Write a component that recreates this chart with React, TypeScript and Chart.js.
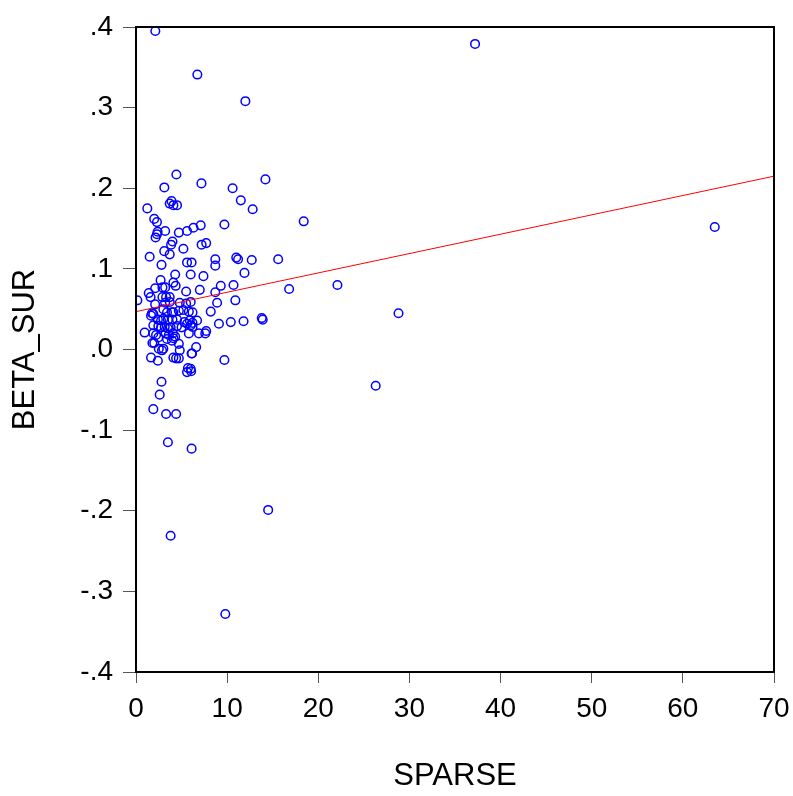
import React, { useEffect, useRef } from "react";
import { Chart, registerables } from "chart.js";

Chart.register(...registerables);

// SPARSE values (x) and BETA_SUR values (y), paired by index
const sparse: number[] = [
  2.12, 37.2, 6.73, 12.0, 63.5, 1.24, 3.11, 4.43, 7.18, 10.6, 14.2, 11.5, 12.8, 18.4, 9.7,
  22.1, 16.8, 15.6, 12.7, 11.0, 11.2, 11.9, 10.9, 10.4, 11.8, 13.8, 13.9, 28.8, 26.3, 9.7,
  14.5, 9.8, 3.8, 6.1, 3.5, 1.9, 3.3, 4.4, 2.6, 2.8, 0.15,
  3.9, 3.7, 4.1, 4.5, 2.0, 2.3, 3.2, 2.37, 2.3, 2.15, 4.7, 5.6, 6.3, 7.1, 4.0, 3.85,
  3.1, 3.7, 5.2, 7.2, 7.7, 1.5, 2.8, 5.6, 6.1, 8.7, 8.7, 4.3, 6.0, 7.4, 2.7,
  4.1, 4.35, 2.1, 2.9, 3.2, 1.4, 1.6, 2.9, 3.3, 3.7, 5.5, 7.0, 9.3, 10.7, 8.7,
  2.1, 3.2, 3.7, 4.8, 5.5, 6.0, 8.9, 1.75, 1.9, 1.65, 3.0, 3.4, 3.95,
  4.1, 4.7, 5.2, 5.8, 6.2, 8.2, 2.4, 2.75, 3.0, 3.5, 4.0, 4.5, 5.3, 5.9, 6.2, 6.7, 9.1,
  1.9, 2.45, 2.75, 3.15, 3.5, 3.8, 4.5, 5.0, 5.6, 6.0, 6.2, 0.95, 1.9, 2.2, 2.45,
  3.25, 3.6, 4.05, 4.3, 5.8, 6.9, 7.6, 7.7, 3.4, 3.95, 4.1, 4.7, 1.8, 2.0,
  2.5, 2.85, 3.0, 4.8, 6.1, 6.15, 6.6, 1.65, 2.4, 4.1, 4.4, 4.7, 5.7, 6.0, 6.05, 5.6,
];

const betaSur: number[] = [
  0.395, 0.379, 0.341, 0.308, 0.152, 0.175, 0.201, 0.217, 0.206, 0.2, 0.211, 0.185, 0.174, 0.159, 0.155,
  0.08, 0.075, 0.112, 0.111, 0.114, 0.112, 0.095, 0.061, 0.034, 0.035, 0.039, 0.037, 0.045, -0.045, -0.013,
  -0.199, -0.328, -0.231, -0.123, -0.115, -0.074, -0.08, -0.08, -0.056, -0.04, 0.061,
  0.184, 0.181, 0.179, 0.179, 0.162, 0.158, 0.147, 0.146, 0.143, 0.139, 0.145, 0.147, 0.151, 0.154, 0.134, 0.13,
  0.122, 0.118, 0.125, 0.13, 0.132, 0.115, 0.105, 0.108, 0.108, 0.112, 0.104, 0.093, 0.093, 0.091, 0.086,
  0.083, 0.079, 0.076, 0.077, 0.077, 0.07, 0.065, 0.065, 0.065, 0.065, 0.072, 0.074, 0.079, 0.08, 0.071,
  0.056, 0.058, 0.059, 0.058, 0.057, 0.059, 0.058, 0.045, 0.044, 0.042, 0.05, 0.046, 0.046,
  0.046, 0.048, 0.049, 0.047, 0.046, 0.047, 0.037, 0.036, 0.038, 0.037, 0.037, 0.037, 0.034, 0.036, 0.033, 0.036, 0.032,
  0.03, 0.029, 0.0275, 0.028, 0.026, 0.0275, 0.029, 0.0275, 0.032, 0.03, 0.028, 0.021, 0.02, 0.018, 0.015,
  0.02, 0.018, 0.02, 0.016, 0.02, 0.02, 0.02, 0.023, 0.013, 0.011, 0.014, 0.007, 0.008, 0.008,
  0.001, -0.001, 0.001, -0.001, -0.005, -0.005, 0.003, -0.01, -0.014, -0.01, -0.011, -0.011, -0.023, -0.024, -0.027, -0.028,
];

// Fitted line
const fitIntercept = 0.047;
const fitSlope = 0.0024;
const fitX: number[] = [0, 70];

const xTicks: number[] = [0, 10, 20, 30, 40, 50, 60, 70];
const yTicks: number[] = [-0.4, -0.3, -0.2, -0.1, 0, 0.1, 0.2, 0.3, 0.4];

const FONT = "'Liberation Sans', Arial, sans-serif";

export default function App() {
  const ref = useRef<HTMLCanvasElement | null>(null);

  useEffect(() => {
    if (!ref.current) return;
    const points = sparse.map((x, i) => ({ x, y: betaSur[i] }));
    const line = fitX.map((x) => ({ x, y: fitIntercept + fitSlope * x }));

    const frame = {
      id: "frame",
      afterDatasetsDraw(chart: any) {
        const { ctx, chartArea } = chart;
        ctx.save();
        ctx.strokeStyle = "#000";
        ctx.lineWidth = 2;
        ctx.strokeRect(chartArea.left, chartArea.top, chartArea.right - chartArea.left, chartArea.bottom - chartArea.top);
        ctx.restore();
      },
    };

    const chart = new Chart(ref.current, {
      type: "scatter",
      data: {
        datasets: [
          {
            data: points,
            pointStyle: "circle",
            pointRadius: 4.3,
            pointBorderWidth: 1.5,
            borderColor: "#0000FF",
            backgroundColor: "rgba(0,0,0,0)",
            pointBackgroundColor: "rgba(0,0,0,0)",
            pointBorderColor: "#0000FF",
            order: 2,
          },
          {
            data: line,
            showLine: true,
            pointRadius: 0,
            borderColor: "#FF0000",
            borderWidth: 1,
            order: 1,
          } as any,
        ],
      },
      options: {
        animation: false,
        responsive: false,
        maintainAspectRatio: false,
        layout: { padding: { top: 27, right: 19, left: 0, bottom: 0 } },
        plugins: { legend: { display: false }, tooltip: { enabled: false } },
        scales: {
          x: {
            type: "linear",
            min: 0,
            max: 70,
            afterBuildTicks: (s: any) => {
              s.ticks = xTicks.map((v) => ({ value: v }));
            },
            afterFit: (s: any) => {
              s.height = 124;
              s.paddingLeft = 0;
              s.paddingRight = 0;
            },
            ticks: {
              color: "#000",
              font: { family: FONT, size: 28 },
              padding: 9,
              maxRotation: 0,
              callback: (v: any) => String(v),
            },
            grid: { display: true, drawOnChartArea: false, drawTicks: true, tickLength: 11, color: "#555" },
            border: { display: true, color: "#000", width: 2 },
            title: {
              display: true,
              text: "SPARSE",
              color: "#000",
              font: { family: FONT, size: 31 },
              padding: { top: 0, bottom: 1 },
            },
          },
          y: {
            type: "linear",
            min: -0.4,
            max: 0.4,
            afterBuildTicks: (s: any) => {
              s.ticks = yTicks.map((v) => ({ value: v }));
            },
            afterFit: (s: any) => {
              s.width = 136;
              s.paddingTop = 0;
              s.paddingBottom = 0;
            },
            ticks: {
              color: "#000",
              font: { family: FONT, size: 28 },
              padding: 10,
              callback: (v: any) => Number(v).toFixed(1).replace("0.", "."),
            },
            grid: { display: true, drawOnChartArea: false, drawTicks: true, tickLength: 13, color: "#555" },
            border: { display: true, color: "#000", width: 2 },
            title: {
              display: true,
              text: "BETA_SUR",
              color: "#000",
              font: { family: FONT, size: 31 },
              padding: { top: 7, bottom: 0 },
            },
          },
        },
      },
      plugins: [frame],
    });
    return () => chart.destroy();
  }, []);

  return (
    <div style={{ position: "fixed", left: 0, top: 0, width: 793, height: 796, background: "#fff" }}>
      <canvas ref={ref} width={793} height={796} style={{ width: 793, height: 796, display: "block" }} />
    </div>
  );
}
